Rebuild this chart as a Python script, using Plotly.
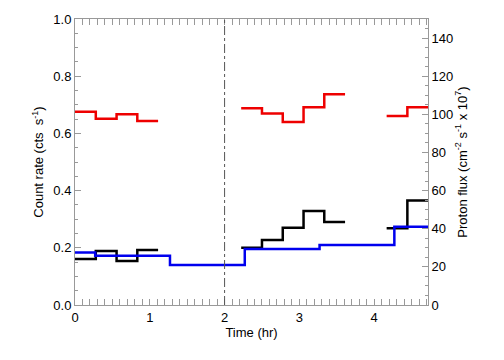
import plotly.graph_objects as go

# Bin edges (hr) and values
red_groups = [
    ([0.0, 0.278, 0.556, 0.833, 1.111], [0.676, 0.651, 0.667, 0.643]),
    ([2.222, 2.5, 2.778, 3.056, 3.333, 3.611], [0.688, 0.670, 0.640, 0.691, 0.737]),
    ([4.167, 4.444, 4.722], [0.661, 0.691]),
]
black_groups = [
    ([0.0, 0.278, 0.556, 0.833, 1.111], [0.161, 0.189, 0.154, 0.192]),
    ([2.222, 2.5, 2.778, 3.056, 3.333, 3.611], [0.200, 0.227, 0.270, 0.329, 0.290]),
    ([4.167, 4.444, 4.722], [0.268, 0.365]),
]
blue_edges = [0.0, 0.27, 1.27, 2.27, 3.27, 4.27, 4.72]
blue_flux = [27.6, 25.8, 21.0, 29.4, 31.5, 41.0]

x_ticks = [0, 1, 2, 3, 4]
y_ticks = [0.0, 0.2, 0.4, 0.6, 0.8, 1.0]
y2_ticks = [0, 20, 40, 60, 80, 100, 120, 140]


def step_xy(groups):
    xs, ys = [], []
    for edges, vals in groups:
        xs += list(edges)
        ys += list(vals) + [vals[-1]]
        xs.append(None)
        ys.append(None)
    return xs, ys


fig = go.Figure()
bx, byv = step_xy([(blue_edges, blue_flux)])
fig.add_trace(go.Scatter(x=bx, y=byv, mode="lines", line=dict(color="#0000ee", width=2.5, shape="hv"),
                         yaxis="y2", connectgaps=False, showlegend=False))
kx, ky = step_xy(black_groups)
fig.add_trace(go.Scatter(x=kx, y=ky, mode="lines", line=dict(color="black", width=2.5, shape="hv"),
                         connectgaps=False, showlegend=False))
rx, ry = step_xy(red_groups)
fig.add_trace(go.Scatter(x=rx, y=ry, mode="lines", line=dict(color="#ee0000", width=2.5, shape="hv"),
                         connectgaps=False, showlegend=False))

fig.add_shape(type="line", x0=2, x1=2, y0=0, y1=1, xref="x", yref="paper",
              line=dict(color="#555555", width=1, dash="dashdot"))

axcol = "#999999"
font = dict(family="Arial", size=13, color="black")
fig.update_layout(
    width=496, height=352, margin=dict(l=67, r=76, t=11, b=55),
    paper_bgcolor="white", plot_bgcolor="white", font=font, showlegend=False,
    xaxis=dict(range=[0, 4.72], tickvals=x_ticks, ticks="inside", ticklen=6, tickcolor=axcol,
               showline=True, linecolor=axcol, linewidth=1, mirror="allticks", showgrid=False,
               zeroline=False, minor=dict(dtick=0.1, ticks="inside", ticklen=3, tickcolor=axcol),
               title=dict(text="Time (hr)", standoff=2, font=font), tickfont=font, automargin=False),
    yaxis=dict(range=[0, 1.0], tickvals=y_ticks, ticktext=["0.0", "0.2", "0.4", "0.6", "0.8", "1.0"],
               ticks="inside", ticklen=6, tickcolor=axcol, showline=True, linecolor=axcol, linewidth=1,
               showgrid=False, zeroline=False, automargin=False,
               minor=dict(dtick=0.05, ticks="inside", ticklen=3, tickcolor=axcol),
               title=dict(text="Count rate (cts  s<sup>-1</sup>)", standoff=6, font=font), tickfont=font),
    yaxis2=dict(range=[0, 150], tickvals=y2_ticks, overlaying="y", side="right", anchor="x",
                ticks="inside", ticklen=6, tickcolor=axcol, showline=True, linecolor=axcol, linewidth=1,
                showgrid=False, zeroline=False, automargin=False,
                minor=dict(dtick=5, ticks="inside", ticklen=3, tickcolor=axcol),
                title=dict(text="Proton flux (cm<sup>-2</sup> s<sup>-1</sup> x 10<sup>7</sup>)", standoff=1,
                           font=font),
                tickfont=font),
)
fig.write_html("out.html")
